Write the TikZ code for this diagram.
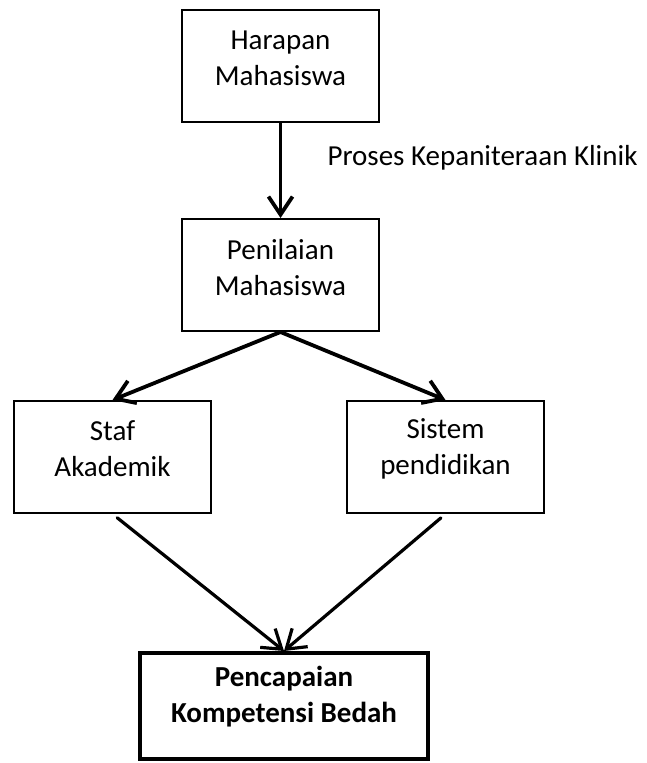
\documentclass[tikz,border=0pt]{standalone}
\usepackage{fontspec}
\setmainfont{Carlito}
\usetikzlibrary{arrows.meta,positioning}

\begin{document}
\begin{tikzpicture}[
    x=1pt, y=-1pt,
    every node/.style={font=\fontsize{29}{36}\selectfont},
    box/.style={rectangle, draw=black, line width=2pt, minimum width=197pt, minimum height=112pt, align=center, inner sep=0pt, text depth=16pt},
    goal/.style={box, line width=4pt, minimum width=288pt, minimum height=106pt, text depth=24pt, font=\fontsize{29}{36}\selectfont\bfseries},
    arrow/.style={-{Straight Barb[length=18pt,width=24pt]}, line width=3.8pt, line cap=round},
    thin arrow/.style={arrow, line width=3.2pt}
  ]
  \useasboundingbox (0,0) rectangle (647,763);

  \node[box] (harapan) at (280.5,66) {Harapan\\Mahasiswa};
  \node[box, below=95pt of harapan] (penilaian) {Penilaian\\Mahasiswa};
  \node[box] (staf) at (112.5,457) {Staf\\Akademik};
  \node[box, text depth=20pt] (sistem) at (445.5,457) {Sistem\\pendidikan};
  \node[goal] (capaian) at (284,706) {Pencapaian\\Kompetensi Bedah};
  \node (proses) at (482.5,158) {Proses Kepaniteraan Klinik};

  \draw[arrow] (harapan) -- (penilaian);
  \draw[arrow] (penilaian.south) -- (staf.north);
  \draw[arrow] (penilaian.south) -- (sistem.north);
  \draw[thin arrow, shorten <=6pt] (staf.south) -- (capaian.north);
  \draw[thin arrow, shorten <=6pt] (sistem.south) -- (capaian.north);
\end{tikzpicture}
\end{document}
